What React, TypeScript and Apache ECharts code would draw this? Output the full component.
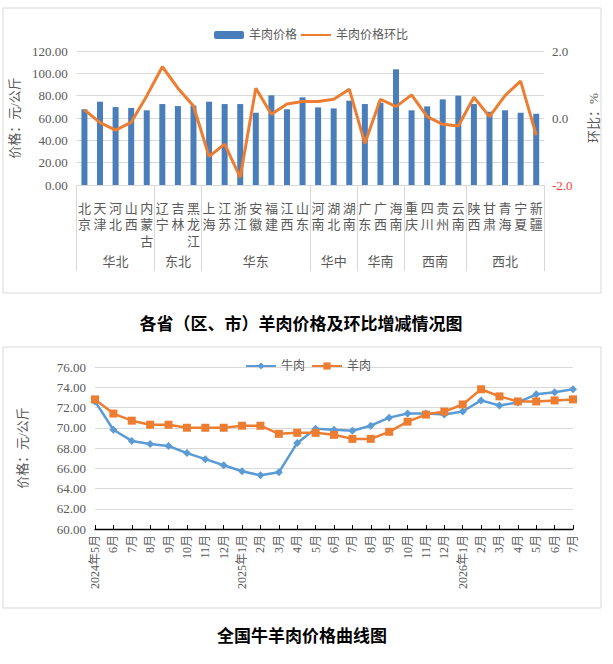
import React, { useEffect, useRef } from "react";
import * as echarts from "echarts";

// ---- Top chart data ----
const provinces = [
  "北京", "天津", "河北", "山西", "内蒙古",
  "辽宁", "吉林", "黑龙江",
  "上海", "江苏", "浙江", "安徽", "福建", "江西", "山东",
  "河南", "湖北", "湖南",
  "广东", "广西", "海南",
  "重庆", "四川", "贵州", "云南",
  "陕西", "甘肃", "青海", "宁夏", "新疆",
];
const regionNames = ["华北", "东北", "华东", "华中", "华南", "西南", "西北"];
const regionSizes = [5, 3, 7, 3, 3, 4, 5];
const muttonPrices = [
  67.8, 74.6, 69.8, 69.0, 66.9,
  72.5, 70.7, 71.0,
  74.6, 72.5, 72.5, 64.7, 80.3, 67.8, 78.5,
  69.5, 68.6, 75.5,
  72.5, 73.7, 103.6,
  66.9, 70.4, 76.7, 80.0,
  72.5, 65.6, 66.9, 64.7, 63.8,
];
const muttonChange = [
  0.24, -0.14, -0.36, -0.13, 0.66,
  1.53, 0.89, 0.36,
  -1.15, -0.78, -1.77, 0.89, 0.11, 0.42, 0.49,
  0.49, 0.56, 0.86,
  -0.76, 0.56, 0.34,
  0.69, 0.04, -0.19, -0.24,
  0.62, 0.04, 0.67, 1.1, -0.51,
];

// ---- Bottom chart data ----
const monthLabels = [
  "2024年5月", "6月", "7月", "8月", "9月", "10月", "11月", "12月",
  "2025年1月", "2月", "3月", "4月", "5月", "6月", "7月", "8月", "9月", "10月", "11月", "12月",
  "2026年1月", "2月", "3月", "4月", "5月", "6月", "7月",
];
const beefPrices = [
  72.6, 69.8, 68.7, 68.4, 68.2, 67.5, 66.9, 66.3,
  65.7, 65.3, 65.6, 68.5, 69.9, 69.8, 69.7, 70.2, 71.0, 71.4, 71.4, 71.3,
  71.6, 72.7, 72.2, 72.5, 73.3, 73.5, 73.8,
];
const muttonNational = [
  72.8, 71.4, 70.7, 70.3, 70.3, 70.0, 70.0, 70.0,
  70.2, 70.2, 69.4, 69.5, 69.5, 69.3, 68.9, 68.9, 69.6, 70.6, 71.3, 71.6,
  72.3, 73.8, 73.1, 72.6, 72.6, 72.7, 72.8,
];

const FONT = "'Liberation Serif', 'Noto Sans CJK SC', serif";
const GRAY = "#595959";
const GRID_LINE = "#d9d9d9";

export default function App() {
  const ref = useRef<HTMLDivElement>(null);

  useEffect(() => {
    document.body.style.margin = "0";
    if (!ref.current) return;
    const chart = echarts.init(ref.current, null, { renderer: "svg" });

    // region boundaries & centers
    const bounds: number[] = [0];
    regionSizes.forEach((s) => bounds.push(bounds[bounds.length - 1] + s));
    const centers = regionSizes.map((s, i) => bounds[i] + s / 2);
    const startIdx = bounds.slice(0, -1);

    const option: any = {
      animation: false,
      backgroundColor: "#ffffff",
      textStyle: { fontFamily: FONT },
      graphic: [
        {
          type: "rect",
          shape: { x: 3, y: 8, width: 598, height: 285 },
          style: { fill: "none", stroke: GRID_LINE, lineWidth: 1 },
          silent: true,
        },
        {
          type: "rect",
          shape: { x: 3, y: 347, width: 598, height: 261 },
          style: { fill: "none", stroke: GRID_LINE, lineWidth: 1 },
          silent: true,
        },
        {
          type: "text",
          x: 301,
          y: 322,
          style: {
            text: "各省（区、市）羊肉价格及环比增减情况图",
            fill: "#000",
            font: "bold 17px 'Noto Sans CJK SC', sans-serif",
            align: "center",
            verticalAlign: "middle",
          },
        },
        {
          type: "text",
          x: 302,
          y: 634,
          style: {
            text: "全国牛羊肉价格曲线图",
            fill: "#000",
            font: "bold 17px 'Noto Sans CJK SC', sans-serif",
            align: "center",
            verticalAlign: "middle",
          },
        },
      ],
      legend: [
        {
          data: [
            { name: "羊肉价格" },
            { name: "羊肉价格环比", itemStyle: { opacity: 0 } },
          ],
          left: 209,
          top: 24,
          itemWidth: 30,
          itemHeight: 8,
          itemGap: 3,
          textStyle: { fontSize: 12, color: GRAY, fontFamily: FONT },
        },
        {
          data: ["牛肉", "羊肉"],
          left: 240,
          top: 355,
          itemWidth: 30,
          itemHeight: 9,
          itemGap: 6,
          textStyle: { fontSize: 12, color: GRAY, fontFamily: FONT },
        },
      ],
      grid: [
        { left: 74, top: 51, width: 470, height: 134, containLabel: false },
        { left: 95, top: 367, width: 478, height: 162, containLabel: false },
      ],
      xAxis: [
        {
          type: "category",
          gridIndex: 0,
          data: provinces,
          position: "bottom",
          axisLine: { show: true, lineStyle: { color: GRID_LINE } },
          axisTick: {
            show: true,
            length: 86,
            interval: (index: number) => startIdx.indexOf(index) >= 0,
            lineStyle: { color: GRID_LINE },
          },
          axisLabel: {
            interval: 0,
            margin: 15,
            fontSize: 13,
            lineHeight: 16.5,
            color: GRAY,
            fontFamily: FONT,
            formatter: (v: string) => v.split("").join("\n"),
          },
        },
        {
          type: "value",
          gridIndex: 0,
          min: 0,
          max: provinces.length,
          position: "bottom",
          axisLine: { show: false },
          splitLine: { show: false },
          axisTick: { show: false },
          axisLabel: {
            customValues: centers,
            margin: 70,
            fontSize: 13,
            color: GRAY,
            fontFamily: FONT,
            formatter: (v: number) => {
              const idx = centers.findIndex((c) => Math.abs(c - v) < 0.01);
              return idx >= 0 ? regionNames[idx] : "";
            },
          },
        },
        {
          type: "category",
          gridIndex: 1,
          data: monthLabels,
          boundaryGap: false,
          axisLine: { show: true, lineStyle: { color: "#000", width: 1.3 } },
          axisTick: {
            show: true,
            inside: true,
            length: 4,
            interval: 0,
            lineStyle: { color: "#000" },
          },
          axisLabel: {
            interval: 0,
            rotate: 90,
            margin: 6,
            fontSize: 12,
            color: GRAY,
            fontFamily: FONT,
          },
        },
      ],
      yAxis: [
        {
          type: "value",
          gridIndex: 0,
          min: 0,
          max: 120,
          interval: 20,
          axisLine: { show: false },
          axisTick: { show: false },
          splitLine: { lineStyle: { color: GRID_LINE } },
          axisLabel: {
            margin: 9,
            fontSize: 13,
            color: GRAY,
            fontFamily: FONT,
            formatter: (v: number) => v.toFixed(2),
          },
          name: "价格：元/公斤",
          nameLocation: "middle",
          nameRotate: 90,
          nameGap: 46,
          nameTextStyle: { fontSize: 13, color: GRAY, fontFamily: FONT },
        },
        {
          type: "value",
          gridIndex: 0,
          position: "right",
          min: -2,
          max: 2,
          interval: 2,
          axisLine: { show: false },
          axisTick: { show: false },
          splitLine: { show: false },
          axisLabel: {
            margin: 8,
            fontSize: 13,
            color: GRAY,
            fontFamily: FONT,
            formatter: (v: number) =>
              v < 0 ? "{neg|" + v.toFixed(1) + "}" : v.toFixed(1),
            rich: {
              neg: { color: "#ff3b3b", fontSize: 13, fontFamily: FONT },
            },
          },
          name: "环比：%",
          nameLocation: "middle",
          nameRotate: 90,
          nameGap: 43,
          nameTextStyle: { fontSize: 13, color: GRAY, fontFamily: FONT },
        },
        {
          type: "value",
          gridIndex: 1,
          min: 60,
          max: 76,
          interval: 2,
          axisLine: { show: false },
          axisTick: { show: false },
          splitLine: { lineStyle: { color: GRID_LINE } },
          axisLabel: {
            margin: 9,
            fontSize: 13,
            color: GRAY,
            fontFamily: FONT,
            formatter: (v: number) => v.toFixed(2),
          },
          name: "价格：元/公斤",
          nameLocation: "middle",
          nameRotate: 90,
          nameGap: 66,
          nameTextStyle: { fontSize: 13, color: GRAY, fontFamily: FONT },
        },
      ],
      series: [
        {
          name: "羊肉价格",
          type: "bar",
          xAxisIndex: 0,
          yAxisIndex: 0,
          data: muttonPrices,
          barWidth: 6,
          itemStyle: { color: "#4a7ebb" },
        },
        {
          name: "羊肉价格环比",
          type: "line",
          xAxisIndex: 0,
          yAxisIndex: 1,
          data: muttonChange,
          symbol: "none",
          lineStyle: { color: "#ed7d31", width: 3 },
          itemStyle: { color: "#ed7d31" },
        },
        {
          name: "牛肉",
          type: "line",
          xAxisIndex: 2,
          yAxisIndex: 2,
          data: beefPrices,
          symbol: "diamond",
          symbolSize: 8,
          lineStyle: { color: "#5b9bd5", width: 2.5 },
          itemStyle: { color: "#5b9bd5" },
        },
        {
          name: "羊肉",
          type: "line",
          xAxisIndex: 2,
          yAxisIndex: 2,
          data: muttonNational,
          symbol: "rect",
          symbolSize: 8,
          lineStyle: { color: "#ed7d31", width: 2.5 },
          itemStyle: { color: "#ed7d31" },
        },
      ],
    };

    chart.setOption(option);
    return () => {
      chart.dispose();
    };
  }, []);

  return <div ref={ref} style={{ width: 613, height: 664 }} />;
}
